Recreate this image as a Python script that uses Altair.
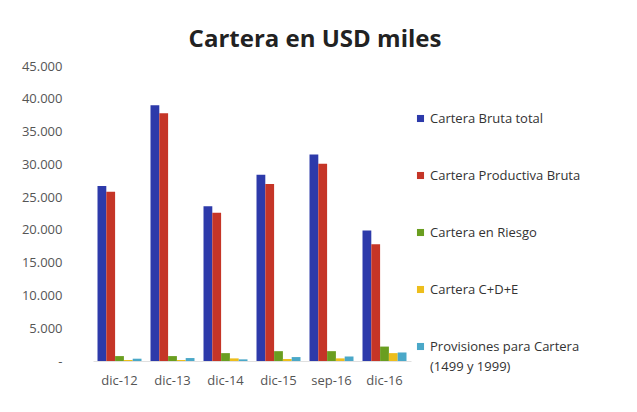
import altair as alt
import pandas as pd

periods = ["dic-12", "dic-13", "dic-14", "dic-15", "sep-16", "dic-16"]
series = [
    "Cartera Bruta total",
    "Cartera Productiva Bruta",
    "Cartera en Riesgo",
    "Cartera C+D+E",
    "Provisiones para Cartera (1499 y 1999)",
]
bruta_total = [26700, 39000, 23600, 28400, 31500, 19900]
productiva = [25800, 37800, 22600, 27000, 30100, 17800]
riesgo = [750, 750, 1200, 1500, 1500, 2200]
cde = [150, 150, 400, 300, 400, 1200]
provisiones = [350, 450, 250, 600, 700, 1300]
colors = ["#2D3AAA", "#C53527", "#6A9E20", "#EDBE1C", "#4AA8C8"]

values = [bruta_total, productiva, riesgo, cde, provisiones]
rows = []
for s, vals in zip(series, values):
    for p, v in zip(periods, vals):
        rows.append({"periodo": p, "serie": s, "valor": v})
df = pd.DataFrame(rows)

label_expr = ("datum.label == 'Provisiones para Cartera (1499 y 1999)' ? "
              "['Provisiones para Cartera', '(1499 y 1999)'] : datum.label")

chart = alt.Chart(df).mark_bar().encode(
    x=alt.X("periodo:N", sort=periods, title=None,
            scale=alt.Scale(paddingInner=0.17, paddingOuter=0.085),
            axis=alt.Axis(labelAngle=0, labelFontSize=13, labelColor="#555555",
                          labelFont="Open Sans", labelPadding=13, ticks=False,
                          domainColor="#E0E0E0", domainWidth=1)),
    xOffset=alt.XOffset("serie:N", sort=series,
                        scale=alt.Scale(paddingInner=0, paddingOuter=0)),
    y=alt.Y("valor:Q", title=None,
            scale=alt.Scale(domain=[0, 45000]),
            axis=alt.Axis(values=list(range(0, 45001, 5000)), grid=False,
                          domain=False, ticks=False, labelFontSize=13,
                          labelColor="#555555", labelFont="Open Sans",
                          labelPadding=31,
                          labelExpr="datum.value == 0 ? '-' : replace(format(datum.value, ','), ',', '.')")),
    color=alt.Color("serie:N", sort=series, title=None,
                    scale=alt.Scale(domain=series, range=colors),
                    legend=alt.Legend(orient="none", legendX=321, legendY=46,
                                      symbolType="square", symbolSize=50,
                                      labelFontSize=13, labelColor="#333333",
                                      labelFont="Open Sans", labelLimit=300,
                                      rowPadding=43, labelOffset=3,
                                      labelExpr=label_expr)),
).properties(
    width=318, height=295,
    title=alt.TitleParams("Cartera en USD miles", fontSize=24, fontWeight="bold",
                          font="Open Sans", color="#222222", anchor="middle",
                          dx=63, offset=8),
    autosize=alt.AutoSizeParams(type="none"),
    padding={"left": 85, "top": 58, "right": 218, "bottom": 43},
).configure(
    background="white",
    style={"guide-label": {"lineHeight": 20}},
).configure_view(stroke=None, strokeWidth=0)

chart.save("out.html", embed_options={"renderer": "svg", "actions": False})
